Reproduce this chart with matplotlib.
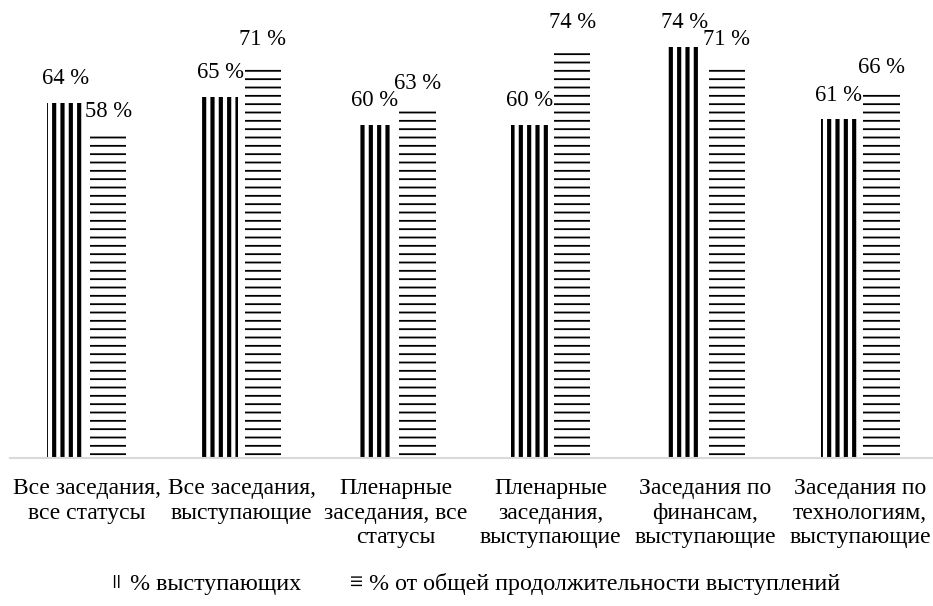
import numpy as np
import matplotlib
matplotlib.use("Agg")
import matplotlib.pyplot as plt
from matplotlib.patches import Rectangle

plt.rcParams['font.family'] = ['Liberation Serif', 'DejaVu Serif']

categories = [
    "Все заседания,\nвсе статусы",
    "Все заседания,\nвыступающие",
    "Пленарные\nзаседания, все\nстатусы",
    "Пленарные\nзаседания,\nвыступающие",
    "Заседания по\nфинансам,\nвыступающие",
    "Заседания по\nтехнологиям,\nвыступающие",
]
speakers_pct = [64, 65, 60, 60, 74, 61]
duration_pct = [58, 71, 63, 74, 71, 66]
series_names = ["% выступающих", "% от общей продолжительности выступлений"]

fig = plt.figure(figsize=(9.33, 6.06), dpi=100)
ax = fig.add_axes([9.5 / 933, 148 / 606, 928 / 933, 444 / 606])

x = np.arange(len(categories))
w = 0.235
gap = 0.04


def hatched_bar(xpos, vals, hatch, lw):
    with plt.rc_context({'hatch.linewidth': lw}):
        bars = ax.bar(xpos, vals, w, facecolor='white', edgecolor='black',
                      linewidth=0, hatch=hatch)
    for p in bars:
        if hasattr(p, 'set_hatch_linewidth'):
            p.set_hatch_linewidth(lw)
    return bars


b1 = hatched_bar(x - (w + gap) / 2, speakers_pct, '||', 3.0)
b2 = hatched_bar(x + (w + gap) / 2, duration_pct, '--', 1.3)

for bars in (b1, b2):
    ax.bar_label(bars, labels=[f"{v} %" for v in bars.datavalues],
                 padding=10, fontsize=16.3)

ax.set_xlim(-0.5, len(categories) - 0.5)
ax.set_ylim(0, 80)
ax.set_xticks(x)
ax.set_xticklabels(categories, fontsize=17, linespacing=1.22)
ax.tick_params(axis='x', length=0, pad=14.5)
ax.set_yticks([])
for side in ('left', 'right', 'top'):
    ax.spines[side].set_visible(False)
ax.spines['bottom'].set_color('#d9d9d9')
ax.spines['bottom'].set_linewidth(1.5)

# small legend swatches, denser hatch than the bars
handles = []
for hatch, lw in (('||||', 2.2), ('----', 1.1)):
    with plt.rc_context({'hatch.linewidth': lw}):
        h = Rectangle((0, 0), 1, 1, facecolor='white', edgecolor='black',
                      linewidth=0, hatch=hatch)
    if hasattr(h, 'set_hatch_linewidth'):
        h.set_hatch_linewidth(lw)
    handles.append(h)

fig.legend(handles=handles, labels=series_names, loc='center',
           bbox_to_anchor=(476 / 933, 1 - 584 / 606), ncol=2, frameon=False,
           fontsize=17.3, handlelength=0.45, handleheight=0.45,
           handletextpad=0.3, columnspacing=2.1)

fig.savefig("out.png", dpi=100)
